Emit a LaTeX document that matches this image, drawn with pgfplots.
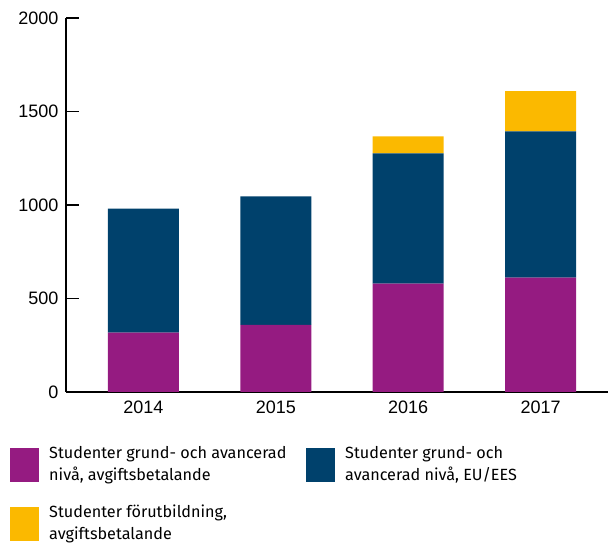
\documentclass[border=0pt]{standalone}
\usepackage{fontspec}
\setmainfont{Fira Sans}
\newfontfamily\tickfont{Liberation Sans}
\usepackage{pgfplots}
\pgfplotsset{compat=1.18}
\definecolor{lila}{RGB}{149,27,129}
\definecolor{morkbla}{RGB}{0,65,108}
\definecolor{gul}{RGB}{251,185,0}
\begin{document}
\begin{tikzpicture}
\begin{axis}[
    scale only axis,
    width=542pt, height=374pt,
    ybar stacked, bar width=71pt,
    xmin=-0.585, xmax=3.51,
    ymin=0, ymax=2000,
    xtick=data, xticklabels={2014,2015,2016,2017},
    ytick={0,500,1000,1500,2000},
    axis lines*=left,
    axis line style={line width=1.5pt},
    x tick style={draw=none},
    y tick style={black, line width=1.5pt},
    tick align=inside, major tick length=13pt,
    ticklabel style={font=\tickfont\fontsize{18}{20}\selectfont},
    yticklabel style={xshift=-4pt},
    xticklabel style={yshift=-5pt},
    /pgf/number format/assume math mode=true,
    /pgf/number format/1000 sep={},
    legend columns=2,
    legend cell align=left,
    legend image code/.code={\fill[#1] (0pt,-24pt) rectangle (29pt,10pt);},
    legend style={
        at={(-0.1033,-0.1387)}, anchor=north west,
        draw=none, inner sep=0pt,
        font=\fontsize{16.2}{22}\selectfont,
        row sep=20pt,
        /tikz/every odd column/.append style={column sep=8pt},
        /tikz/every even column/.append style={column sep=10pt},
    },
]
\addplot[fill=lila, draw=none] coordinates {(0,318) (1,359) (2,579) (3,611)};
\addlegendentry{\parbox{245pt}{Studenter grund- och avancerad\\nivå, avgiftsbetalande}}
\addplot[fill=morkbla, draw=none] coordinates {(0,662) (1,687) (2,697) (3,783)};
\addlegendentry{\parbox{255pt}{Studenter grund- och\\avancerad nivå, EU/EES}}
\addplot[fill=gul, draw=none] coordinates {(0,0) (1,0) (2,91) (3,215)};
\addlegendentry{\parbox{245pt}{Studenter förutbildning,\\avgiftsbetalande}}
\coordinate (tl) at (rel axis cs:-0.1218,1.0481);
\coordinate (br) at (rel axis cs:1.0055,-0.4064);
\end{axis}
\pgfresetboundingbox
\path (tl) rectangle (br);
\end{tikzpicture}
\end{document}
